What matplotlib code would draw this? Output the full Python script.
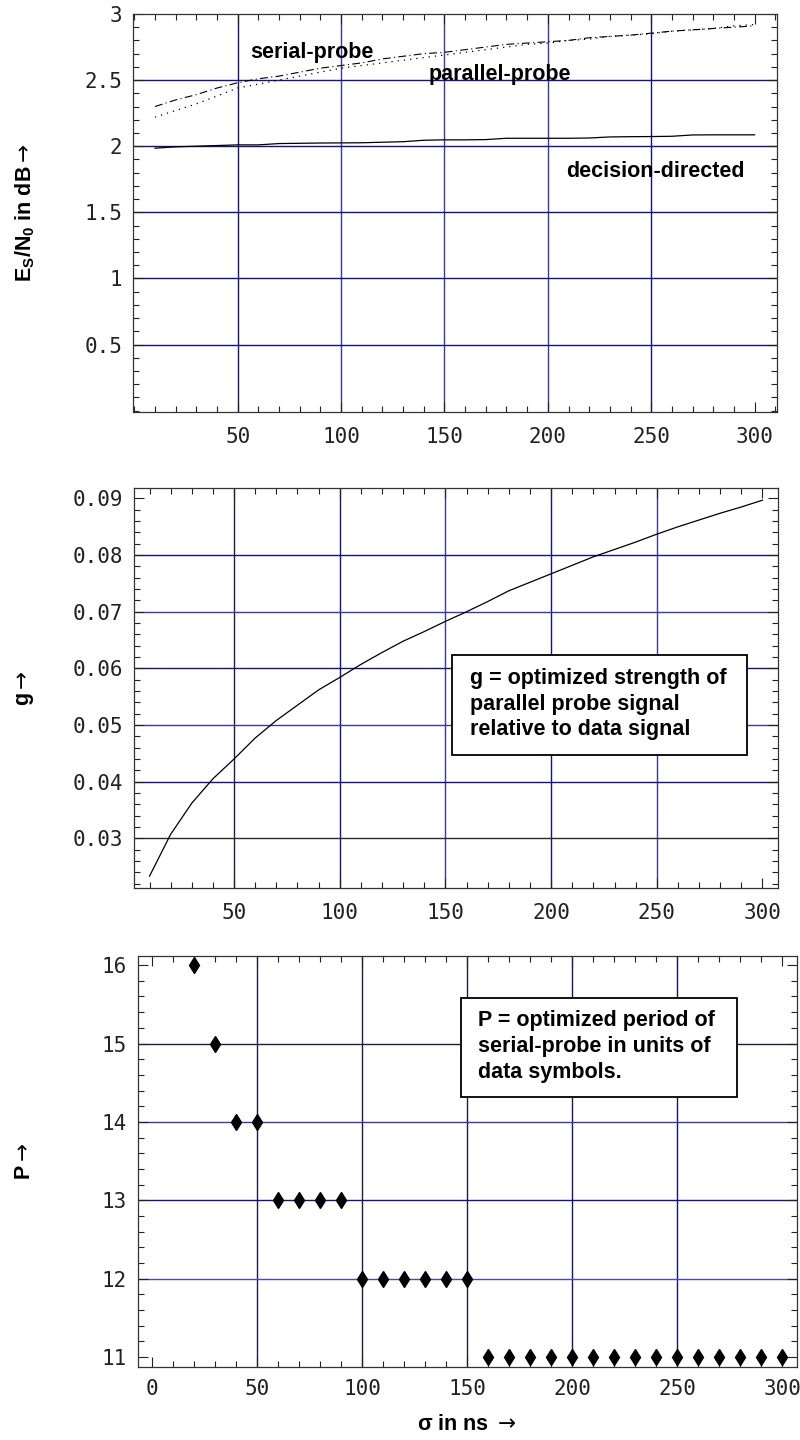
import numpy as np
import matplotlib.pyplot as plt
from matplotlib.ticker import MultipleLocator, FixedLocator, FuncFormatter
from matplotlib.patches import Rectangle

plt.rcParams['font.family'] = ['Liberation Sans', 'DejaVu Sans']
plt.rcParams['mathtext.fontset'] = 'custom'
plt.rcParams['mathtext.rm'] = 'Liberation Sans:bold'
plt.rcParams['mathtext.it'] = 'Liberation Sans:bold'
plt.rcParams['mathtext.bf'] = 'Liberation Sans:bold'
plt.rcParams['mathtext.sf'] = 'DejaVu Sans'  # arrows in axis titles

#%% data
sigma = np.arange(10, 310, 10)

es_serial = [2.30, 2.35, 2.39, 2.44, 2.48, 2.51, 2.53, 2.56, 2.59, 2.61,
             2.63, 2.66, 2.68, 2.70, 2.71, 2.73, 2.75, 2.77, 2.78, 2.79,
             2.80, 2.82, 2.83, 2.84, 2.855, 2.87, 2.88, 2.89, 2.90, 2.91]
es_parallel = [2.22, 2.27, 2.32, 2.38, 2.44, 2.47, 2.50, 2.53, 2.56, 2.59,
               2.61, 2.63, 2.65, 2.67, 2.69, 2.71, 2.73, 2.75, 2.77, 2.78,
               2.80, 2.81, 2.83, 2.84, 2.85, 2.87, 2.88, 2.89, 2.91, 2.92]
es_dd = [1.985, 1.995, 2.00, 2.005, 2.01, 2.01, 2.02, 2.022, 2.024, 2.025,
         2.026, 2.03, 2.034, 2.045, 2.048, 2.048, 2.05, 2.06, 2.06, 2.06,
         2.06, 2.062, 2.07, 2.072, 2.073, 2.075, 2.085, 2.086, 2.086, 2.086]

g_opt = [0.0233, 0.0307, 0.0362, 0.0405, 0.0440, 0.0477, 0.0508, 0.0535, 0.0562, 0.0584,
         0.0607, 0.0628, 0.0648, 0.0665, 0.0683, 0.0700, 0.0718, 0.0737, 0.0752, 0.0767,
         0.0782, 0.0797, 0.0810, 0.0823, 0.0837, 0.0850, 0.0862, 0.0874, 0.0885, 0.0897]

sigma_p = np.arange(20, 310, 10)
p_opt = [16, 15, 14, 14, 13, 13, 13, 13,
         12, 12, 12, 12, 12, 12,
         11, 11, 11, 11, 11, 11, 11, 11, 11, 11, 11, 11, 11, 11, 11]

navy = '#14147a'
light = '#3a3a9e'
dark = '#1c1c44'

#%%
fig = plt.figure(figsize=(8, 14.4), dpi=100)
ax1 = fig.add_axes([0.1666, 0.7139, 0.8043, 0.2764])
ax2 = fig.add_axes([0.1679, 0.3833, 0.8050, 0.2776])
ax3 = fig.add_axes([0.1725, 0.0507, 0.8234, 0.2856])


def frame(ax, xmaj, xmin, ymaj, ymin, fmt_y, xpad=11):
    ax.xaxis.set_major_locator(FixedLocator(xmaj))
    ax.xaxis.set_minor_locator(MultipleLocator(xmin))
    ax.yaxis.set_major_locator(FixedLocator(ymaj))
    ax.yaxis.set_minor_locator(MultipleLocator(ymin))
    ax.xaxis.set_major_formatter(FuncFormatter(lambda v, p: '%g' % v))
    ax.yaxis.set_major_formatter(FuncFormatter(fmt_y))
    ax.tick_params(which='both', direction='in', top=True, right=True,
                   color='#222222', width=0.8)
    ax.tick_params(which='major', length=7)
    ax.tick_params(which='minor', length=4)
    ax.tick_params(axis='both', labelsize=15, labelcolor='#222222',
                   labelfontfamily='DejaVu Sans Mono')
    ax.tick_params(axis='x', pad=xpad)
    ax.tick_params(axis='y', pad=8)
    for s in ax.spines.values():
        s.set_color('#333333')
        s.set_linewidth(0.9)


def grid(ax, xs, ys):
    for x, c in xs:
        ax.axvline(x, color=c, lw=1.0, zorder=0.5)
    for y, c in ys:
        ax.axhline(y, color=c, lw=1.0, zorder=0.5)


# top panel: required Es/N0
frame(ax1, [50, 100, 150, 200, 250, 300], 10,
      [0.5, 1, 1.5, 2, 2.5, 3], 0.1, lambda v, p: '%g' % v)
ax1.set_xlim(-0.5, 310.7)
ax1.set_ylim(-0.01, 3.0)
grid(ax1, [(50, navy), (100, light), (150, light), (200, light), (250, navy)],
     [(0.5, navy), (1, navy), (1.5, navy), (2, navy), (2.5, navy)])
ax1.plot(sigma, es_serial, color='black', lw=0.8, ls=(0, (7, 3, 1, 3)))
ax1.plot(sigma, es_parallel, color='black', lw=0.9, ls=(0, (1, 4)))
ax1.plot(sigma, es_dd, color='black', lw=0.9)
ax1.text(86, 2.705, 'serial-probe', fontsize=15.5, fontweight='bold', ha='center', va='center')
ax1.text(177, 2.54, 'parallel-probe', fontsize=15.5, fontweight='bold', ha='center', va='center')
ax1.text(252, 1.81, 'decision-directed', fontsize=15.5, fontweight='bold', ha='center', va='center')

# middle panel: parallel probe strength
frame(ax2, [50, 100, 150, 200, 250, 300], 10,
      [0.03, 0.04, 0.05, 0.06, 0.07, 0.08, 0.09], 0.002, lambda v, p: '%.2f' % v)
ax2.set_xlim(2.8, 307.5)
ax2.set_ylim(0.0212, 0.0918)
grid(ax2, [(50, dark), (100, navy), (150, light), (200, navy), (250, light)],
     [(0.03, '#2a2a2a'), (0.04, navy), (0.05, light), (0.06, navy), (0.07, light), (0.08, navy)])
ax2.plot(sigma, g_opt, color='black', lw=0.9)
ax2.add_patch(Rectangle((0.4929, 0.334), 0.4581, 0.249, transform=ax2.transAxes,
                        facecolor='white', edgecolor='black', lw=1.3, zorder=3))
ax2.text(0.5213, 0.4603, 'g = optimized strength of\nparallel probe signal\nrelative to data signal',
         transform=ax2.transAxes, fontsize=15.5, fontweight='bold', ha='left', va='center',
         linespacing=1.3, zorder=4)

# bottom panel: serial probe period
frame(ax3, [0, 50, 100, 150, 200, 250, 300], 10,
      [11, 12, 13, 14, 15, 16], 0.2, lambda v, p: '%g' % v, xpad=9)
ax3.set_xlim(-6.8, 306.9)
ax3.set_ylim(10.873, 16.12)
grid(ax3, [(50, dark), (100, dark), (150, dark), (200, navy), (250, navy)],
     [(12, '#4a4aa8'), (13, navy), (14, light), (15, dark)])
ax3.plot(sigma_p, p_opt, ls='none', marker='d', ms=8.5, color='black')
ax3.add_patch(Rectangle((0.4904, 0.6572), 0.4194, 0.2407, transform=ax3.transAxes,
                        facecolor='white', edgecolor='black', lw=1.3, zorder=3))
ax3.text(0.5166, 0.7788, 'P = optimized period of\nserial-probe in units of\ndata symbols.',
         transform=ax3.transAxes, fontsize=15.5, fontweight='bold', ha='left', va='center',
         linespacing=1.3, zorder=4)

# axis titles
arrow = r'$\mathsf{\rightarrow}$'
fig.text(25 / 800, 1 - 213 / 1440, r'$\mathrm{E_S/N_0}$ in dB' + arrow, rotation=90,
         fontsize=15.5, fontweight='bold', ha='center', va='center')
fig.text(25 / 800, 1 - 688 / 1440, 'g' + arrow, rotation=90,
         fontsize=15.5, fontweight='bold', ha='center', va='center')
fig.text(25 / 800, 1 - 1161 / 1440, 'P' + arrow, rotation=90,
         fontsize=15.5, fontweight='bold', ha='center', va='center')
fig.text(467 / 800, 1 - 1424 / 1440, 'σ in ns ' + arrow, fontsize=15.5, fontweight='bold',
         ha='center', va='center')

fig.savefig('out.png', dpi=100)
